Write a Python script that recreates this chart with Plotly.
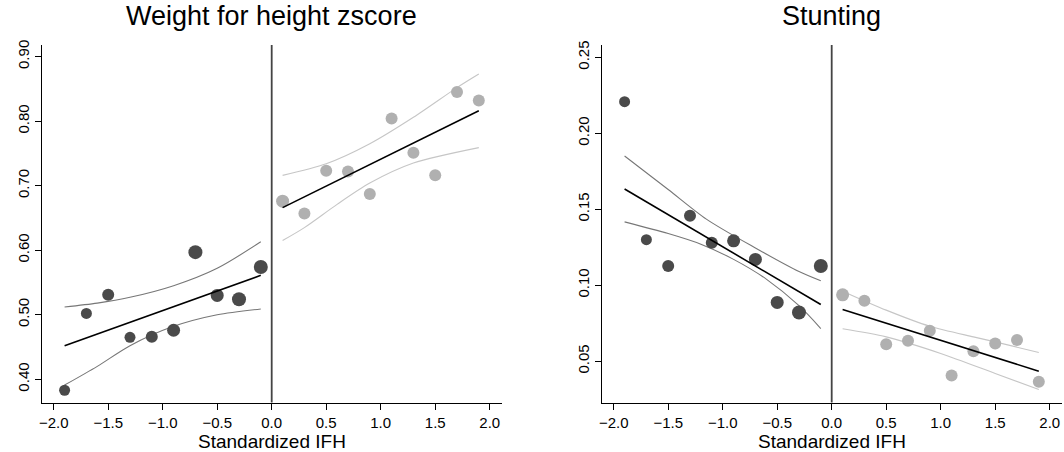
import plotly.graph_objects as go

# ---------------- data ----------------
x_left = [-1.9, -1.7, -1.5, -1.3, -1.1, -0.9, -0.7, -0.5, -0.3, -0.1]
x_right = [0.1, 0.3, 0.5, 0.7, 0.9, 1.1, 1.3, 1.5, 1.7, 1.9]
size_left = [11, 11, 12, 11, 12, 13, 14, 13, 14, 14]
size_right = [13, 12, 12, 12, 12, 12, 12, 12, 12, 12]
size_left_s = [11, 11, 12, 12, 12, 13, 13, 13, 14, 14]

# Panel 1: Weight for height zscore
whz_left = [0.383, 0.502, 0.531, 0.465, 0.466, 0.476, 0.597, 0.530, 0.524, 0.574]
whz_right = [0.676, 0.657, 0.723, 0.722, 0.687, 0.804, 0.751, 0.716, 0.845, 0.832]
whz_fit_l_x = [-1.9, -0.1]
whz_fit_l_y = [0.452, 0.561]
whz_fit_r_x = [0.1, 1.9]
whz_fit_r_y = [0.666, 0.816]
whz_ciu_l_x = [-1.9, -1.6, -1.3, -0.9, -0.5, -0.1]
whz_ciu_l_y = [0.512, 0.518, 0.527, 0.545, 0.572, 0.613]
whz_cil_l_x = [-1.9, -1.6, -1.3, -0.9, -0.5, -0.1]
whz_cil_l_y = [0.391, 0.420, 0.452, 0.482, 0.500, 0.509]
whz_ciu_r_x = [0.1, 0.5, 0.9, 1.3, 1.7, 1.9]
whz_ciu_r_y = [0.716, 0.734, 0.765, 0.806, 0.852, 0.873]
whz_cil_r_x = [0.1, 0.3, 0.6, 0.9, 1.3, 1.9]
whz_cil_r_y = [0.615, 0.635, 0.671, 0.704, 0.735, 0.759]

# Panel 2: Stunting
st_left = [0.2208, 0.130, 0.1126, 0.1457, 0.128, 0.1292, 0.117, 0.0887, 0.082, 0.1126]
st_right = [0.0937, 0.0897, 0.0612, 0.0634, 0.070, 0.0406, 0.0566, 0.0617, 0.0640, 0.0364]
st_fit_l_x = [-1.9, -0.1]
st_fit_l_y = [0.1633, 0.0873]
st_fit_r_x = [0.1, 1.9]
st_fit_r_y = [0.084, 0.0434]
st_ciu_l_x = [-1.9, -1.5, -1.15, -0.7, -0.3, -0.1]
st_ciu_l_y = [0.185, 0.163, 0.1435, 0.1245, 0.109, 0.1029]
st_cil_l_x = [-1.9, -1.5, -1.2, -0.9, -0.6, -0.3, -0.1]
st_cil_l_y = [0.1417, 0.134, 0.127, 0.117, 0.104, 0.0865, 0.0715]
st_ciu_r_x = [0.1, 0.5, 0.9, 1.3, 1.5, 1.9]
st_ciu_r_y = [0.0961, 0.0836, 0.073, 0.066, 0.0627, 0.0557]
st_cil_r_x = [0.1, 0.5, 1.0, 1.5, 1.9]
st_cil_r_y = [0.0713, 0.066, 0.0551, 0.0419, 0.0313]

titles = ["Weight for height zscore", "Stunting"]
x_title = "Standardized IFH"
x_ticks = [-2.0, -1.5, -1.0, -0.5, 0.0, 0.5, 1.0, 1.5, 2.0]
whz_ticks = [0.40, 0.50, 0.60, 0.70, 0.80, 0.90]
st_ticks = [0.05, 0.10, 0.15, 0.20, 0.25]

# ---------------- style ----------------
DARK = "#4a4a4a"
LIGHT = "#b0b0b0"
DARK_CI = "#777777"
LIGHT_CI = "#c6c6c6"
FONT = "Liberation Sans, Arial, Helvetica, sans-serif"

W, H = 1064, 452
fig = go.Figure()


def add_panel(xa, ya, yl, yr, sl, sr,
              cul, cll, cur, clr, fl, fr):
    kw = dict(xaxis=xa, yaxis=ya, showlegend=False, hoverinfo="skip")
    for (cx, cy), col in [(cul, DARK_CI), (cll, DARK_CI), (cur, LIGHT_CI), (clr, LIGHT_CI)]:
        fig.add_trace(go.Scatter(x=cx, y=cy, mode="lines",
                                 line=dict(color=col, width=1.1, shape="spline", smoothing=0.8), **kw))
    fig.add_trace(go.Scatter(x=x_left, y=yl, mode="markers",
                             marker=dict(color=DARK, size=sl, opacity=1, line=dict(width=0)), **kw))
    fig.add_trace(go.Scatter(x=x_right, y=yr, mode="markers",
                             marker=dict(color=LIGHT, size=sr, opacity=1, line=dict(width=0)), **kw))
    for fx, fy in [fl, fr]:
        fig.add_trace(go.Scatter(x=fx, y=fy, mode="lines",
                                 line=dict(color="black", width=1.6), **kw))


add_panel("x", "y", whz_left, whz_right, size_left, size_right,
          (whz_ciu_l_x, whz_ciu_l_y), (whz_cil_l_x, whz_cil_l_y),
          (whz_ciu_r_x, whz_ciu_r_y), (whz_cil_r_x, whz_cil_r_y),
          (whz_fit_l_x, whz_fit_l_y), (whz_fit_r_x, whz_fit_r_y))
add_panel("x2", "y2", st_left, st_right, size_left_s, size_right,
          (st_ciu_l_x, st_ciu_l_y), (st_cil_l_x, st_cil_l_y),
          (st_ciu_r_x, st_ciu_r_y), (st_cil_r_x, st_cil_r_y),
          (st_fit_l_x, st_fit_l_y), (st_fit_r_x, st_fit_r_y))

ydom = [1 - 402.5 / H, 1 - 45 / H]
xdom1 = [41.7 / W, 501.7 / W]
xdom2 = [601.7 / W, 1061.7 / W]

xcommon = dict(range=[-2.11, 2.11], tickvals=x_ticks, tickformat=".1f",
               showline=True, linecolor="black", linewidth=1, ticks="outside",
               ticklen=6, tickcolor="black", showgrid=False, zeroline=False,
               tickfont=dict(family=FONT, size=15, color="black"), automargin=False)
ycommon = dict(showline=True, linecolor="black", linewidth=1, ticks="outside",
               ticklen=6, tickcolor="black", showgrid=False, zeroline=False,
               tickangle=-90, tickformat=".2f",
               tickfont=dict(family=FONT, size=15, color="black"), automargin=False)

fig.update_layout(
    width=W, height=H,
    margin=dict(l=0, r=0, t=0, b=0),
    paper_bgcolor="white", plot_bgcolor="white",
    xaxis=dict(xcommon, domain=xdom1, anchor="y"),
    yaxis=dict(ycommon, domain=ydom, anchor="x", range=[0.364, 0.918], tickvals=whz_ticks),
    xaxis2=dict(xcommon, domain=xdom2, anchor="y2"),
    yaxis2=dict(ycommon, domain=ydom, anchor="x2", range=[0.0228, 0.2581], tickvals=st_ticks),
    shapes=[
        dict(type="line", xref="x", yref="y domain", x0=0, x1=0, y0=0, y1=1,
             line=dict(color="#444444", width=1.8)),
        dict(type="line", xref="x2", yref="y2 domain", x0=0, x1=0, y0=0, y1=1,
             line=dict(color="#444444", width=1.8)),
    ],
    annotations=[
        dict(text=titles[0], x=(xdom1[0] + xdom1[1]) / 2, y=1 - 16 / H, xref="paper", yref="paper",
             showarrow=False, xanchor="center", yanchor="middle",
             font=dict(family=FONT, size=27, color="black")),
        dict(text=titles[1], x=(xdom2[0] + xdom2[1]) / 2, y=1 - 16 / H, xref="paper", yref="paper",
             showarrow=False, xanchor="center", yanchor="middle",
             font=dict(family=FONT, size=27, color="black")),
        dict(text=x_title, x=(xdom1[0] + xdom1[1]) / 2, y=1 - 441 / H, xref="paper", yref="paper",
             showarrow=False, xanchor="center", yanchor="middle",
             font=dict(family=FONT, size=19, color="black")),
        dict(text=x_title, x=(xdom2[0] + xdom2[1]) / 2, y=1 - 441 / H, xref="paper", yref="paper",
             showarrow=False, xanchor="center", yanchor="middle",
             font=dict(family=FONT, size=19, color="black")),
    ],
)

fig.write_html(
    "out.html",
    config={"displayModeBar": False, "staticPlot": True},
    post_script="document.body.style.margin='0px';document.body.style.padding='0px';document.body.style.overflow='hidden';",
)
